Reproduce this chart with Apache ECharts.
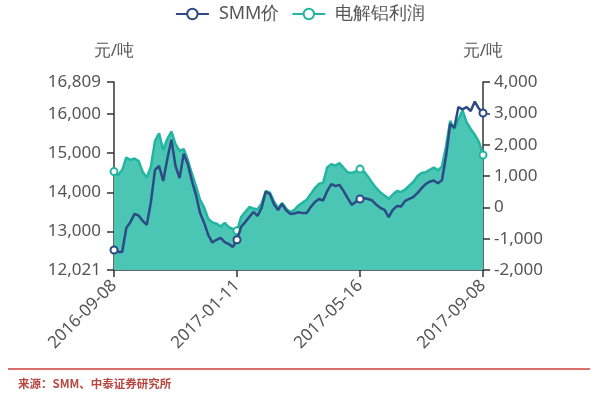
<!DOCTYPE html>
<html><head><meta charset="utf-8">
<script src="https://cdn.jsdelivr.net/npm/echarts@6/dist/echarts.min.js"></script>
<style>html,body{margin:0;padding:0;background:#fff}#c{width:600px;height:396px}</style>
</head><body><div id="c"></div>
<script>
const categories = [
'2016-09-08','2016-09-12','2016-09-16','2016-09-21','2016-09-25','2016-09-29','2016-10-03','2016-10-07','2016-10-11','2016-10-16',
'2016-10-20','2016-10-24','2016-10-28','2016-11-01','2016-11-05','2016-11-10','2016-11-14','2016-11-18','2016-11-22','2016-11-26',
'2016-11-30','2016-12-05','2016-12-09','2016-12-13','2016-12-17','2016-12-21','2016-12-25','2016-12-30','2017-01-03','2017-01-07',
'2017-01-11','2017-01-15','2017-01-19','2017-01-24','2017-01-28','2017-02-01','2017-02-05','2017-02-09','2017-02-13','2017-02-18',
'2017-02-22','2017-02-26','2017-03-02','2017-03-06','2017-03-10','2017-03-15','2017-03-19','2017-03-23','2017-03-27','2017-03-31',
'2017-04-04','2017-04-09','2017-04-13','2017-04-17','2017-04-21','2017-04-25','2017-04-29','2017-05-04','2017-05-08','2017-05-12',
'2017-05-16','2017-05-20','2017-05-24','2017-05-28','2017-05-31','2017-06-04','2017-06-08','2017-06-12','2017-06-16','2017-06-20',
'2017-06-23','2017-06-27','2017-07-01','2017-07-05','2017-07-09','2017-07-13','2017-07-16','2017-07-20','2017-07-24','2017-07-28',
'2017-08-01','2017-08-05','2017-08-08','2017-08-12','2017-08-16','2017-08-20','2017-08-24','2017-08-27','2017-08-31','2017-09-04',
'2017-09-08'];
const smmPrice = [
12530,12480,12480,13090,13240,13450,13410,13270,13170,13750,
14570,14670,14290,14850,15340,14670,14360,14980,14720,14290,
13930,13470,13220,12910,12720,12790,12840,12730,12680,12610,
12790,13120,13240,13370,13500,13400,13600,14010,13960,13700,
13550,13700,13540,13450,13460,13490,13470,13470,13630,13750,
13830,13790,14030,14210,14160,14190,14030,13850,13680,13760,
13830,13850,13830,13790,13680,13600,13550,13370,13550,13650,
13640,13780,13830,13880,13980,14100,14210,14270,14300,14230,
14310,14930,15740,15640,16170,16110,16170,16070,16310,16130,16020];
const aluProfit = [
1140,1030,1190,1590,1510,1560,1480,1130,950,1300,
2120,2360,1830,2180,2420,2020,1800,1860,1510,1080,
680,240,-10,-370,-480,-520,-610,-500,-630,-690,
-750,-310,-150,10,-40,-70,120,520,470,190,
-20,140,-40,-150,-80,60,150,240,430,610,
750,780,1270,1380,1330,1410,1260,1120,1100,1150,
1220,1140,970,780,610,470,380,270,410,520,
490,570,690,810,990,1100,1120,1200,1270,1180,
1310,1960,2760,2500,2810,3090,2720,2500,2320,2090,1670];
const leftTicks = [12021,13000,14000,15000,16000,16809];
const rightTicks = [-2000,-1000,0,1000,2000,3000,4000];
const seriesNames = ['SMM价','电解铝利润'];
const unitName = '元/吨';
const sourceText = '来源：SMM、中泰证券研究所';

const chart = echarts.init(document.getElementById('c'));
const fmt = v => Number(v).toLocaleString('en-US');
const axisCol = '#333';
const txtCol = '#555';
const font = 'Noto Sans, sans-serif';
const lblSize = 17;
chart.setOption({
  animation: false,
  textStyle: {fontFamily: font},
  legend: {
    data: seriesNames, top: 0, left: 170, itemWidth: 33, itemHeight: 13, itemGap: 12,
    lineStyle: {width: 1.8}, itemStyle: {borderWidth: 1.8},
    textStyle: {fontSize: 18, color: txtCol, fontFamily: font, padding: [0, 0, 0, 5]}
  },
  grid: {left: 114, right: 117, top: 82, bottom: 126, containLabel: false},
  xAxis: {
    type: 'category', data: categories, boundaryGap: false,
    axisLine: {onZero: false, lineStyle: {color: axisCol, width: 1.5}},
    axisTick: {interval: 29, length: 7, lineStyle: {color: axisCol, width: 1.5}},
    axisLabel: {interval: 29, rotate: 45, fontSize: lblSize, color: txtCol, margin: 13, fontFamily: font},
    splitLine: {show: false}
  },
  yAxis: [{
    type: 'value', min: leftTicks[0], max: leftTicks[leftTicks.length - 1], position: 'left',
    name: unitName, nameLocation: 'end', nameGap: 22,
    nameTextStyle: {fontSize: lblSize, color: txtCol, align: 'center', fontFamily: font},
    axisLine: {show: true, lineStyle: {color: axisCol, width: 1.5}},
    axisTick: {show: true, length: 7, customValues: leftTicks, lineStyle: {color: axisCol, width: 1.5}},
    axisLabel: {fontSize: lblSize, color: txtCol, margin: 13, customValues: leftTicks, formatter: fmt, fontFamily: font},
    splitLine: {show: false}
  }, {
    type: 'value', min: rightTicks[0], max: rightTicks[rightTicks.length - 1], interval: 1000, position: 'right',
    name: unitName, nameLocation: 'end', nameGap: 22,
    nameTextStyle: {fontSize: lblSize, color: txtCol, align: 'center', fontFamily: font},
    axisLine: {show: true, lineStyle: {color: axisCol, width: 1.5}},
    axisTick: {show: true, length: 7, lineStyle: {color: axisCol, width: 1.5}},
    axisLabel: {fontSize: lblSize, color: txtCol, margin: 11, formatter: fmt, fontFamily: font},
    splitLine: {show: false}
  }],
  series: [{
    name: seriesNames[1], type: 'line', yAxisIndex: 1, data: aluProfit,
    symbol: 'emptyCircle', symbolSize: 7, showAllSymbol: 'auto',
    lineStyle: {color: '#22b5a1', width: 2.5},
    itemStyle: {color: '#22b5a1', borderWidth: 2},
    areaStyle: {color: '#4cc6b4', opacity: 1, origin: 'start'},
    z: 2
  }, {
    name: seriesNames[0], type: 'line', yAxisIndex: 0, data: smmPrice,
    symbol: 'emptyCircle', symbolSize: 7, showAllSymbol: 'auto',
    lineStyle: {color: '#2c4a85', width: 2.5},
    itemStyle: {color: '#2c4a85', borderWidth: 2},
    z: 3
  }],
  graphic: [{
    type: 'line', shape: {x1: 8, y1: 369, x2: 590, y2: 369},
    style: {stroke: '#d9706c', lineWidth: 2}
  }, {
    type: 'text', left: 18, top: 378,
    style: {text: sourceText, fill: '#b7463e', font: 'bold 11.5px "Noto Sans CJK SC", sans-serif'}
  }]
});
</script></body></html>
